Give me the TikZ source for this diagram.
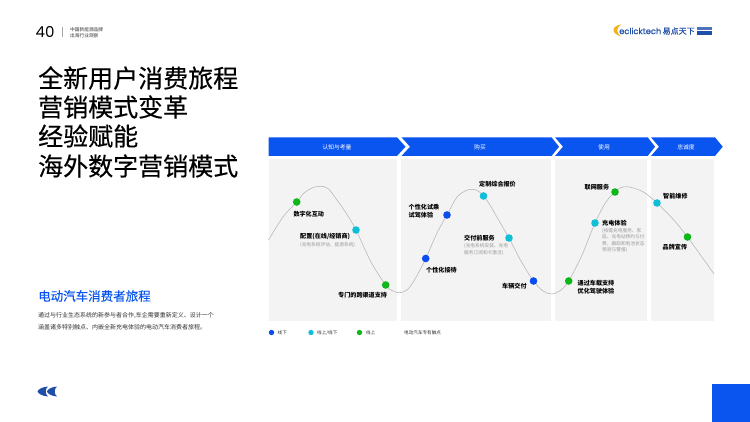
\documentclass[tikz,border=0pt]{standalone}
\usepackage{fontspec}
\setmainfont{Noto Sans CJK SC}
\newfontfamily\latinfont{Poppins}
\newfontfamily\latinmed[FakeBold=0.4]{Poppins}
\newfontfamily\medfont[FakeBold=0.35]{Noto Sans CJK SC}
\definecolor{bblue}{HTML}{0A55F0}
\definecolor{dblue}{HTML}{0A4CF0}
\definecolor{dcyan}{HTML}{0FBFD8}
\definecolor{dgreen}{HTML}{0DB71A}
\definecolor{panelg}{HTML}{F3F3F3}
\definecolor{curveg}{HTML}{B5B5B5}
\definecolor{subg}{HTML}{9A9A9A}
\definecolor{bodyt}{HTML}{333333}
\definecolor{logoo}{HTML}{F2B21B}
\definecolor{logob}{HTML}{1F4FA8}
\newcommand{\fsz}[1]{\fontsize{#1}{#1}\selectfont}
\tikzset{
  panelbox/.style={fill=panelg,draw=none},
  banner/.style={fill=bblue,draw=none},
  bannertext/.style={text=white,font=\fsz{5.8},inner sep=0pt},
  dot/.style={circle,minimum size=7.6pt,inner sep=0pt,draw=none},
  legdot/.style={circle,minimum size=5.4pt,inner sep=0pt,draw=none},
  lbl/.style={anchor=west,inner sep=0pt,align=left,text=black,font=\fsz{6.1}\bfseries,
     execute at begin node={\baselineskip=8pt}},
  sublbl/.style={anchor=west,inner sep=0pt,align=left,text=subg,font=\fsz{4.7},
     execute at begin node={\baselineskip=6.5pt}},
  leglbl/.style={anchor=west,inner sep=0pt,text=bodyt,font=\fsz{4.6}},
  titletext/.style={anchor=west,inner sep=0pt,text=black,font=\medfont\fsz{25}},
  bodytext/.style={anchor=west,inner sep=0pt,text=bodyt,font=\fsz{6}},
}
\begin{document}
\begin{tikzpicture}[x=1pt,y=-1pt]
\useasboundingbox (0,0) rectangle (750,422);
\fill[white] (0,0) rectangle (750,422);
% page head
\node[inner sep=0pt,text=black,font=\latinfont\fsz{15}] (pageno) at (45,32) {40};
\draw[gray!70,line width=.4pt] (62,27.5) -- (62,37);
\node[leglbl,font=\fsz{4.7}] (head1) at (70,29.5) {中国新能源品牌};
\node[leglbl,font=\fsz{4.7}] (head2) at (70,35.5) {出海行业观察};
% logo
\fill[logoo] (621,24.5) .. controls (612,26) and (610,33) .. (621,36.5) .. controls (616,33) and (616,28) .. (621,24.5) -- cycle;
\node[inner sep=0pt,anchor=west,text=logob,font=\latinmed\fsz{8.3}] (logoa) at (619,31) {eclicktech};
\node[inner sep=0pt,anchor=west,text=logob,font=\medfont\fsz{8}] (logob) at (662.5,31) {易点天下};
\fill[logob!80] (697,27) rectangle (712,30);
\fill[logob] (697,31) rectangle (712,35);
% title
\node[titletext] (t1) at (38,78) {全新用户消费旅程};
\node[titletext] (t2) at (38,107) {营销模式变革};
\node[titletext] (t3) at (38,136) {经验赋能};
\node[titletext] (t4) at (38,166) {海外数字营销模式};
% left text
\node[anchor=west,inner sep=0pt,text=bblue,font=\medfont\fsz{12.5}] (sub) at (38,296) {电动汽车消费者旅程};
\node[bodytext] (b1) at (38,316) {通过与行业生态系统的新参与者合作,车企需要重新定义、设计一个};
\node[bodytext] (b2) at (38,327) {涵盖诸多特别触点、内嵌全新充电体验的电动汽车消费者旅程。};
% panels
\fill[panelbox] (268.5,159) rectangle (396.8,320.8);
\fill[panelbox] (401,159) rectangle (550.8,320.8);
\fill[panelbox] (555,159) rectangle (646.8,320.8);
\fill[panelbox] (651,159) rectangle (714,320.8);
% banners
\fill[banner] (268.5,137.3) -- (397,137.3) -- (405.5,146.7) -- (397,156) -- (268.5,156) -- cycle;
\fill[banner] (401.5,137.3) -- (551.5,137.3) -- (559,146.7) -- (551.5,156) -- (401.5,156) -- (410,146.7) -- cycle;
\fill[banner] (555,137.3) -- (647.7,137.3) -- (655,146.7) -- (647.7,156) -- (555,156) -- (563,146.7) -- cycle;
\fill[banner] (651,137.3) -- (715,137.3) -- (722.7,146.7) -- (715,156) -- (651,156) -- (659,146.7) -- cycle;
\node[bannertext] (h1) at (337,147) {认知与考量};
\node[bannertext] (h2) at (480,147) {购买};
\node[bannertext] (h3) at (604,147) {使用};
\node[bannertext] (h4) at (686,147) {忠诚度};
% curve
\draw[curveg,line width=.55pt,line join=round] plot[smooth,tension=.55] coordinates {
 (268.5,240) (283,217) (296.7,202) (304,193) (312,188) (320,186.3) (328,188.5) (337,200) (346,213) (356,230) (371,262) (385.7,285)
 (392,290.5) (399,292.7) (407,290) (415,279) (425.7,258.5) (437,233) (447,215) (456.7,197.5) (465,191) (472,189.3) (479,191.5) (488,202) (498,219) (509,238) (521,261) (533.5,281)
 (543,291) (552,294) (561,290) (568.7,281) (582,255) (595,223) (606,202) (615,192) (620,188) (626.7,186.7) (635,188.5) (645,193) (657,203) (672,218) (687.5,237) (714,274)};
% dots
\node[dot,fill=dgreen] (d1) at (296.7,202) {};
\node[dot,fill=dcyan] (d2) at (356,230) {};
\node[dot,fill=dgreen] (d3) at (385.7,285) {};
\node[dot,fill=dblue] (d4) at (425.7,258.5) {};
\node[dot,fill=dblue] (d5) at (447,215) {};
\node[dot,fill=dcyan] (d6) at (483.5,196) {};
\node[dot,fill=dcyan] (d7) at (509,238) {};
\node[dot,fill=dblue] (d8) at (533.5,281) {};
\node[dot,fill=dgreen] (d9) at (568.7,281) {};
\node[dot,fill=dcyan] (d10) at (595,223) {};
\node[dot,fill=dgreen] (d11) at (615,192) {};
\node[dot,fill=dcyan] (d12) at (657,203) {};
\node[dot,fill=dgreen] (d13) at (687.5,237) {};
% labels
\node[lbl] (l1) at (293.3,214) {数字化互动};
\node[lbl] (l2) at (300,236) {配置(在线/经销商)};
\node[sublbl] (s2) at (300,244.5) {(充电系统评估、能源系统)};
\node[lbl] (l3) at (338,295) {专门的跨渠道支持};
\node[lbl] (l5) at (408.5,211.5) {个性化试乘\\试驾体验};
\node[lbl] (l6) at (479,184) {定制综合报价};
\node[lbl] (l7) at (464,238) {交付前服务};
\node[sublbl] (s7) at (464,249.7) {(充电系统安装、充电\\服务订阅和卡激活)};
\node[lbl] (l4) at (426,270) {个性化接待};
\node[lbl] (l8) at (502,286) {车辆交付};
\node[lbl] (l11) at (584.5,187) {联网服务};
\node[lbl] (l10) at (602,223) {充电体验};
\node[sublbl] (s10) at (602,240.5) {(按需充电服务、家\\庭、充电站预约与付\\费、跟踪和电池状态\\预测与警报)};
\node[lbl] (l12) at (663,196) {智能维修};
\node[lbl] (l13) at (662.5,247) {品牌宣传};
\node[lbl] (l9) at (577.5,287.3) {通过车载支持\\优化驾驶体验};
% legend
\node[legdot,fill=dblue] (k1) at (271.5,332.5) {};
\node[leglbl] (kt1) at (277.5,332.5) {线下};
\node[legdot,fill=dcyan] (k2) at (311,332.5) {};
\node[leglbl] (kt2) at (317,332.5) {线上/线下};
\node[legdot,fill=dgreen] (k3) at (359.5,332.5) {};
\node[leglbl] (kt3) at (366,332.5) {线上};
\node[leglbl] (kt4) at (404,332.5) {电动汽车专有触点};
% footer marks
\fill[logob] (48,386.5) .. controls (42,387) and (38,389.5) .. (37.5,391.5) .. controls (38,393.5) and (42,396) .. (48,396.5) .. controls (45,394.5) and (45,388.5) .. (48,386.5) -- cycle;
\fill[logob] (57,386.5) .. controls (51,387) and (47.5,389.5) .. (47,391.5) .. controls (47.5,393.5) and (51,396) .. (57,396.5) .. controls (54,394.5) and (54,388.5) .. (57,386.5) -- cycle;
\fill[bblue] (712,384) rectangle (750,422);
\end{tikzpicture}
\end{document}
